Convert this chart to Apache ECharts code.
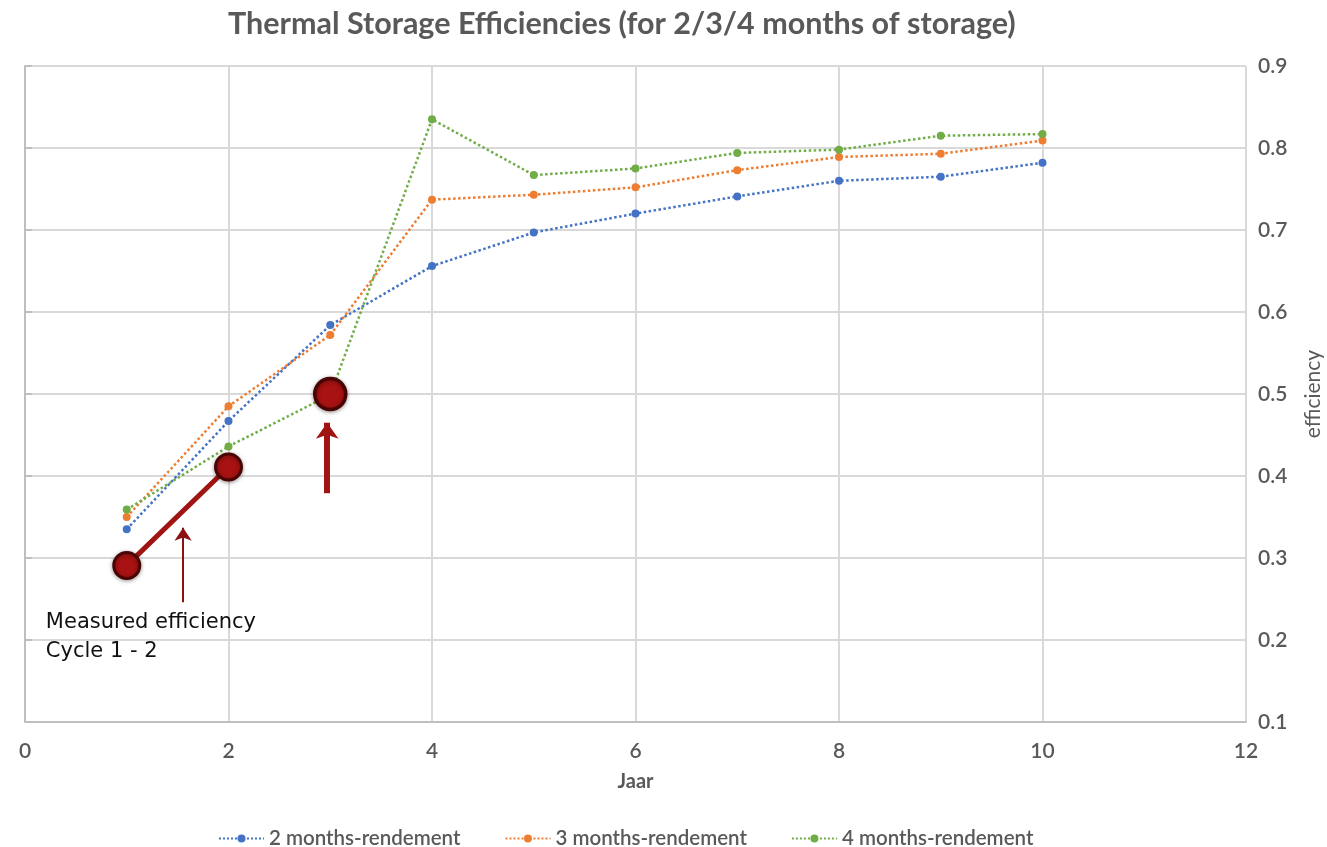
<!DOCTYPE html>
<html><head><meta charset="utf-8">
<script src="https://cdn.jsdelivr.net/npm/echarts@6/dist/echarts.min.js"></script>
<style>html,body{margin:0;padding:0;background:#fff}#c{width:1327px;height:847px}</style>
</head><body><div id="c"></div>
<script>
// ---- data ----
const years = [1, 2, 3, 4, 5, 6, 7, 8, 9, 10];
const eff2 = [0.335, 0.467, 0.584, 0.656, 0.697, 0.720, 0.741, 0.760, 0.765, 0.782];
const eff3 = [0.350, 0.485, 0.572, 0.737, 0.743, 0.752, 0.773, 0.789, 0.793, 0.809];
const eff4 = [0.359, 0.436, 0.499, 0.835, 0.767, 0.775, 0.794, 0.798, 0.815, 0.817];
const seriesNames = ['2 months-rendement', '3 months-rendement', '4 months-rendement'];
const measuredX = [1, 2];
const measuredY = [0.291, 0.411];
const measured3X = [3];
const measured3Y = [0.5];
const xRange = [0, 12, 2];
const yRange = [0.1, 0.9, 0.1];
const arrow1 = [[1.554, 0.246], [1.554, 0.337]];
const arrow2 = [[2.97, 0.379], [2.97, 0.465]];
const noteAnchor = [0.205, 0.239];
const noteText = 'Measured efficiency\nCycle 1 - 2';

const pairs = (xs, ys) => xs.map((x, i) => [x, ys[i]]);
const GREY = '#595959';
const FONT = 'Lato';

const chart = echarts.init(document.getElementById('c'), null, {renderer: 'canvas'});
const dotted = (name, color, ys) => ({
  name, type: 'line', data: pairs(years, ys),
  symbol: 'circle', symbolSize: 8,
  itemStyle: {color},
  lineStyle: {color, width: 2.5, type: 'dotted'},
  z: 2
});
chart.setOption({
  animation: false,
  backgroundColor: '#fff',
  title: {
    text: 'Thermal Storage Efficiencies (for 2/3/4 months of storage)',
    left: 223, top: 4,
    textStyle: {fontFamily: FONT, fontSize: 30.5, fontWeight: 'bold', color: GREY}
  },
  legend: {
    data: seriesNames,
    left: 213, top: 823,
    itemWidth: 45, itemHeight: 10, itemGap: 44,
    textStyle: {fontFamily: FONT, fontSize: 20.5, fontWeight: 600, color: GREY}
  },
  grid: {left: 25, right: 81, top: 66, bottom: 125, containLabel: false, outerBoundsMode: 'none'},
  xAxis: {
    type: 'value', min: xRange[0], max: xRange[1], interval: xRange[2],
    name: 'Jaar', nameLocation: 'middle', nameGap: 50,
    nameTextStyle: {fontFamily: FONT, fontSize: 20, fontWeight: 'bold', color: GREY},
    axisLine: {show: true, lineStyle: {color: '#bfbfbf', width: 2}},
    axisTick: {show: false},
    axisLabel: {margin: 19, fontFamily: FONT, fontSize: 21, fontWeight: 600, color: GREY},
    splitLine: {show: true, lineStyle: {color: '#d9d9d9', width: 2}}
  },
  yAxis: {
    type: 'value', position: 'right', min: yRange[0], max: yRange[1], interval: yRange[2],
    name: 'efficiency', nameLocation: 'middle', nameGap: 57, nameRotate: 90,
    nameTextStyle: {fontFamily: FONT, fontSize: 21, color: GREY},
    axisLine: {show: true, lineStyle: {color: '#bfbfbf', width: 2}},
    axisTick: {show: true, inside: false, length: 7, lineStyle: {color: '#bfbfbf', width: 2}},
    axisLabel: {margin: 12, fontFamily: FONT, fontSize: 21, fontWeight: 600, color: GREY,
      formatter: v => v.toFixed(1)},
    splitLine: {show: true, lineStyle: {color: '#d9d9d9', width: 2}}
  },
  series: [
    dotted(seriesNames[0], '#4472C4', eff2),
    dotted(seriesNames[1], '#ED7D31', eff3),
    dotted(seriesNames[2], '#70AD47', eff4),
    {
      name: 'measured', type: 'line', data: pairs(measuredX, measuredY),
      symbol: 'circle', symbolSize: 26, z: 5,
      lineStyle: {color: '#a01414', width: 5},
      itemStyle: {color: '#a81212', borderColor: '#4a0404', borderWidth: 3, opacity: 1,
        shadowBlur: 4, shadowColor: 'rgba(0,0,0,0.35)', shadowOffsetY: 1},
      markLine: {
        silent: true, symbol: ['none', 'arrow'], symbolSize: [13, 13],
        label: {show: false},
        lineStyle: {color: '#8b1212', width: 2, type: 'solid'},
        data: [[{coord: arrow1[0]}, {coord: arrow1[1]}]]
      }
    },
    {
      name: 'measured3', type: 'scatter', data: pairs(measured3X, measured3Y),
      symbol: 'circle', symbolSize: 31, z: 5,
      itemStyle: {color: '#a81212', borderColor: '#4a0404', borderWidth: 3.5, opacity: 1,
        shadowBlur: 4, shadowColor: 'rgba(0,0,0,0.35)', shadowOffsetY: 1},
      markLine: {
        silent: true, symbol: ['none', 'arrow'], symbolSize: [17, 16],
        label: {show: false},
        lineStyle: {color: '#a01414', width: 6, type: 'solid'},
        data: [[{coord: arrow2[0]}, {coord: arrow2[1]}]]
      }
    }
  ]
});
const p = chart.convertToPixel({gridIndex: 0}, noteAnchor);
chart.setOption({
  graphic: [{
    type: 'text', left: p[0], top: p[1], z: 10,
    style: {text: noteText, fontFamily: 'DejaVu Sans', fontSize: 21, lineHeight: 29, fill: '#111'}
  }]
});
</script></body></html>
